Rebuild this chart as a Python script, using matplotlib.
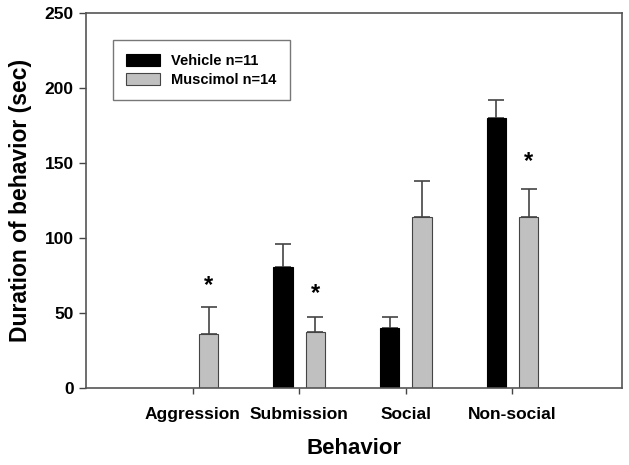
import numpy as np
import matplotlib.pyplot as plt

plt.rcParams['font.family'] = ['Liberation Sans', 'DejaVu Sans']
plt.rcParams['font.weight'] = 'bold'

categories = ["Aggression", "Submission", "Social", "Non-social"]
vehicle = [0, 81, 40, 180]
vehicle_err = [0, 15, 7, 12]
muscimol = [36, 37, 114, 114]
muscimol_err = [18, 10, 24, 19]
# asterisk heights (y position of the star)
stars = [(0, 68), (1, 63), (3, 151)]

x = np.arange(1, len(categories) + 1)
w = 0.18
off = 0.152

fig = plt.figure(figsize=(6.29, 4.65), dpi=100)
ax = fig.add_axes([0.137, 0.166, 0.852, 0.805])

edge = "#444444"
v_mask = np.array(vehicle) > 0
ax.bar(x[v_mask] - off, np.array(vehicle)[v_mask], w, color="black",
       edgecolor="black", linewidth=0.8, label="Vehicle n=11", zorder=2)
ax.errorbar(x[v_mask] - off, np.array(vehicle)[v_mask],
            yerr=[np.zeros(v_mask.sum()), np.array(vehicle_err)[v_mask]],
            fmt="none", ecolor=edge, elinewidth=1.2, capsize=5.5, capthick=1.2, zorder=1)
ax.bar(x + off, muscimol, w, color="#c0c0c0", edgecolor=edge, linewidth=0.8,
       label="Muscimol n=14", zorder=2)
ax.errorbar(x + off, muscimol, yerr=[np.zeros(len(x)), muscimol_err],
            fmt="none", ecolor=edge, elinewidth=1.2, capsize=5.5, capthick=1.2, zorder=1)

for i, h in stars:
    ax.text(x[i] + off, h, "*", ha="center", va="center", fontsize=17, fontweight="bold")

ax.set_xlim(0, 5.03)
ax.set_ylim(0, 250)
ax.set_yticks([0, 50, 100, 150, 200, 250])
ax.set_xticks(x)
ax.set_xticklabels(categories)
ax.tick_params(axis="both", labelsize=12.5, color=edge, width=1, direction="out")
ax.tick_params(axis="x", length=4, pad=10)
ax.tick_params(axis="y", length=5, pad=4)
for s in ax.spines.values():
    s.set_color("#555555")
    s.set_linewidth(1.2)

ax.set_xlabel("Behavior", fontsize=16, fontweight="bold", labelpad=11)
ax.set_ylabel("Duration of behavior (sec)", fontsize=16.5, fontweight="bold", labelpad=9)

leg = ax.legend(loc="upper left", bbox_to_anchor=(0.05, 0.928), fontsize=10.5,
                frameon=True, fancybox=False, edgecolor="#555555", borderaxespad=0,
                handlelength=2.3, handleheight=0.9, borderpad=0.9, labelspacing=0.35)
leg.get_frame().set_linewidth(1.0)

fig.savefig("out.png", dpi=100)
